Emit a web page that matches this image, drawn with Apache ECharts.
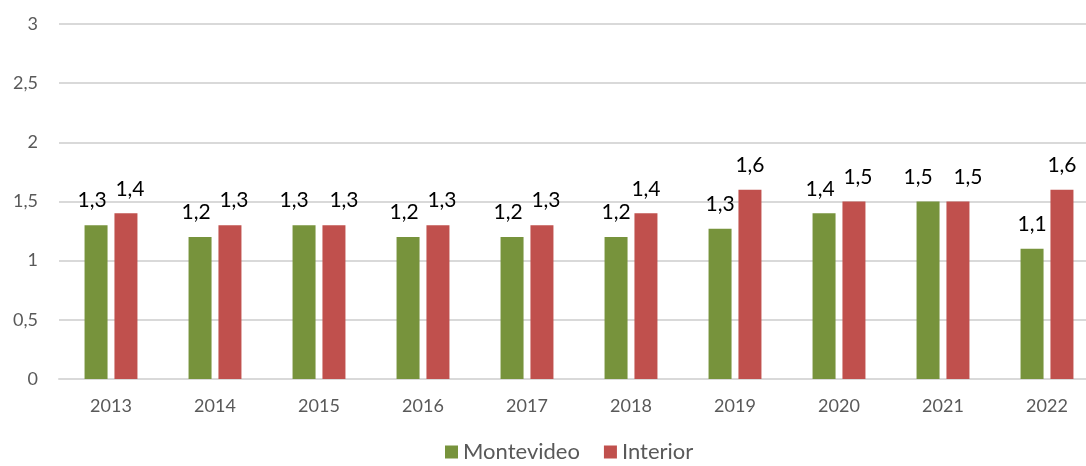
<!DOCTYPE html>
<html>
<head>
<meta charset="utf-8">
<script src="https://cdn.jsdelivr.net/npm/echarts@6/dist/echarts.min.js"></script>
<style>
  html, body { margin: 0; padding: 0; background: #fff; overflow: hidden; }
  #chart { width: 1099px; height: 466px; }
</style>
</head>
<body>
<div id="chart"></div>
<script>
var years = ['2013', '2014', '2015', '2016', '2017', '2018', '2019', '2020', '2021', '2022'];
var montevideo = [1.3, 1.2, 1.3, 1.2, 1.2, 1.2, 1.27, 1.4, 1.5, 1.1];
var interior = [1.4, 1.3, 1.3, 1.3, 1.3, 1.4, 1.6, 1.5, 1.5, 1.6];

function comma(v) {
  return String(v).replace('.', ',');
}

// push the two labels of a year apart when they sit at about the same height
function spreadLabels(params) {
  var i = params.dataIndex;
  var diff = Math.abs(interior[i] - montevideo[i]);
  var push = diff < 0.05 ? 10 : (diff < 0.15 ? 4 : 0);
  return { dx: params.seriesIndex === 0 ? -push : push };
}

var labelStyle = {
  show: true,
  position: 'top',
  distance: 14,
  fontSize: 21,
  color: '#000',
  fontFamily: 'Lato',
  formatter: function (p) { return p.value.toFixed(1).replace('.', ','); }
};

var chart = echarts.init(document.getElementById('chart'));
chart.setOption({
  animation: false,
  textStyle: { fontFamily: 'Lato' },
  grid: { left: 59, right: 0, top: 24, bottom: 87 },
  legend: {
    left: 440,
    bottom: -2,
    itemWidth: 13,
    itemHeight: 13,
    itemGap: 24,
    icon: 'rect',
    textStyle: { fontSize: 22, color: '#595959', fontFamily: 'Lato' },
    data: ['Montevideo', 'Interior']
  },
  xAxis: {
    type: 'category',
    data: years,
    axisTick: { show: false },
    axisLine: { lineStyle: { color: '#d9d9d9', width: 2 } },
    axisLabel: { fontSize: 18, color: '#595959', margin: 18 }
  },
  yAxis: {
    type: 'value',
    min: 0,
    max: 3,
    interval: 0.5,
    axisLabel: { fontSize: 18, color: '#595959', margin: 21, formatter: comma },
    splitLine: { lineStyle: { color: '#d9d9d9', width: 2 } }
  },
  series: [
    {
      name: 'Montevideo',
      type: 'bar',
      data: montevideo,
      barWidth: 23,
      barGap: '30%',
      itemStyle: { color: '#77933C' },
      label: labelStyle,
      labelLayout: spreadLabels
    },
    {
      name: 'Interior',
      type: 'bar',
      data: interior,
      barWidth: 23,
      itemStyle: { color: '#C0504D' },
      label: labelStyle,
      labelLayout: spreadLabels
    }
  ]
});
</script>
</body>
</html>
